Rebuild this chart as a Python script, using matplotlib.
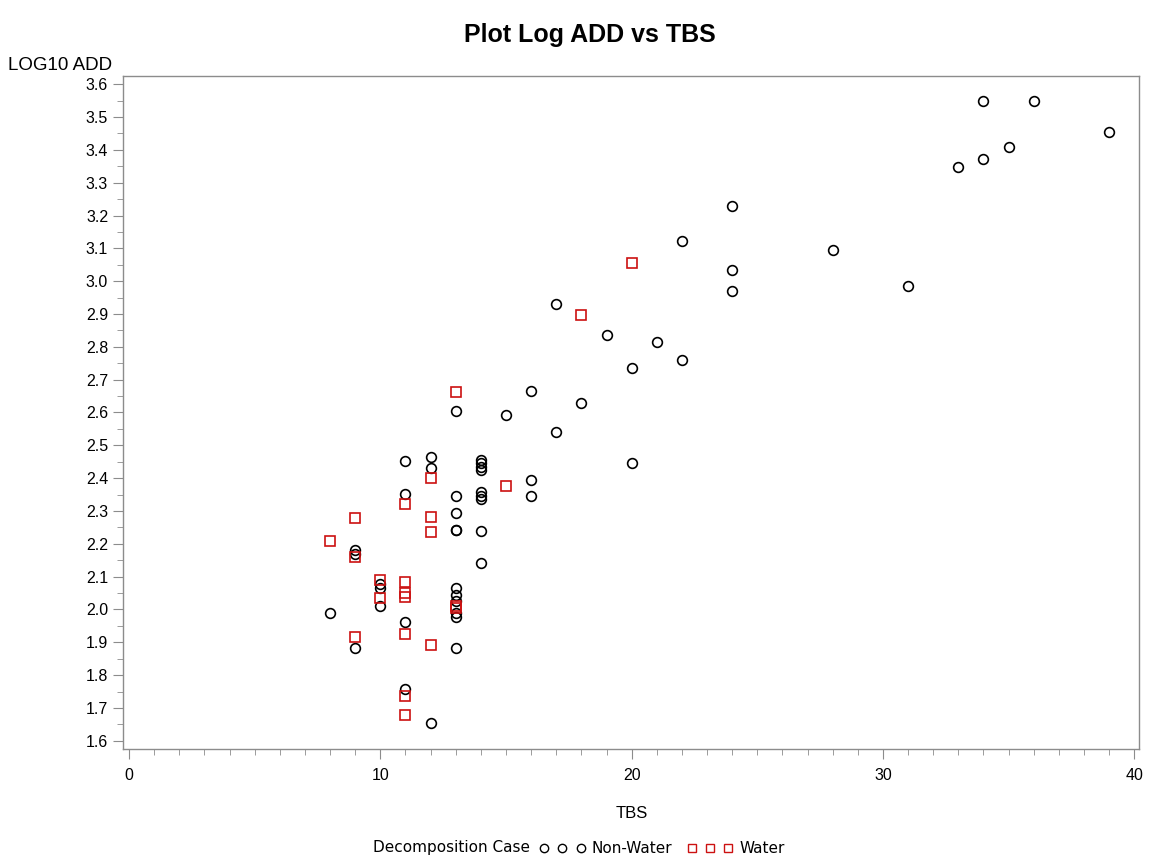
import matplotlib.pyplot as plt
from matplotlib.lines import Line2D
from matplotlib.ticker import MultipleLocator

# Non-Water cases (circles)
nw_tbs = [8, 9, 9, 9, 10, 10, 10, 11, 11, 11, 11, 12, 12, 12,
          13, 13, 13, 13, 13, 13, 13, 13, 13, 13, 13,
          14, 14, 14, 14, 14, 14, 14, 14, 14,
          15, 16, 16, 16, 17, 17, 18, 19, 20, 20, 21, 22, 22,
          24, 24, 24, 28, 31, 33, 34, 34, 35, 36, 39]
nw_log_add = [1.99, 2.18, 2.168, 1.884, 2.076, 2.064, 2.012,
              2.452, 2.351, 1.963, 1.759, 2.464, 2.430, 1.655,
              2.605, 2.345, 2.293, 2.241, 2.243, 2.064, 2.043, 2.027, 1.988, 1.976, 1.884,
              2.455, 2.445, 2.435, 2.425, 2.357, 2.347, 2.337, 2.238, 2.14,
              2.592, 2.665, 2.394, 2.345, 2.931, 2.54, 2.629, 2.837, 2.736, 2.446,
              2.815, 3.121, 2.760, 3.228, 3.035, 2.971, 3.096, 2.986, 3.347,
              3.548, 3.371, 3.408, 3.548, 3.454]

# Water cases (squares)
w_tbs = [8, 9, 9, 9, 10, 10, 11, 11, 11, 11, 11, 11, 11,
         12, 12, 12, 12, 13, 13, 13, 15, 18, 20]
w_log_add = [2.208, 2.278, 2.159, 1.915, 2.089, 2.034,
             2.321, 2.083, 2.049, 2.037, 1.924, 1.737, 1.679,
             2.40, 2.281, 2.235, 1.893, 2.663, 2.003, 2.012,
             2.376, 2.898, 3.056]

red = '#cc1111'
grey = '#8c8c8c'

plt.rcParams['font.family'] = ['Liberation Sans', 'DejaVu Sans']

fig = plt.figure(figsize=(11.55, 8.59), dpi=100)
ax = fig.add_axes([0.1069, 0.1281, 0.8795, 0.7838])

ax.plot(nw_tbs, nw_log_add, linestyle='none', marker='o', ms=7,
        mfc='none', mec='black', mew=1.2)
ax.plot(w_tbs, w_log_add, linestyle='none', marker='s', ms=7,
        mfc='none', mec=red, mew=1.2)

ax.set_xlim(-0.22, 40.2)
ax.set_ylim(1.575, 3.626)
ax.xaxis.set_major_locator(MultipleLocator(10))
ax.xaxis.set_minor_locator(MultipleLocator(1))
ax.yaxis.set_major_locator(MultipleLocator(0.1))
ax.yaxis.set_minor_locator(MultipleLocator(0.05))
ax.yaxis.set_major_formatter(plt.FormatStrFormatter('%.1f'))

for s in ax.spines.values():
    s.set_color(grey)
    s.set_linewidth(1.0)
ax.tick_params(which='major', length=7, color=grey, labelsize=11.5, pad=4)
ax.tick_params(axis='x', which='major', pad=7)
ax.tick_params(which='minor', length=4, color=grey)

ax.set_xlabel('TBS', fontsize=12, labelpad=16)
fig.text(0.007, 0.918, 'LOG10 ADD', fontsize=13.5, ha='left', va='baseline')
fig.text(0.511, 0.959, 'Plot Log ADD vs TBS', fontsize=18, fontweight='bold',
         ha='center', va='center')

# legend along the bottom
fig.text(0.459, 0.005, 'Decomposition Case', fontsize=11, family='DejaVu Sans',
         ha='right', va='bottom')
handles = [Line2D([], [], linestyle='none', marker='o', ms=6, mfc='none', mec='black', mew=1),
           Line2D([], [], linestyle='none', marker='s', ms=6, mfc='none', mec=red, mew=1)]
fig.legend(handles, ['Non-Water', 'Water'], loc='lower left', bbox_to_anchor=(0.455, -0.013),
           ncol=2, numpoints=3, frameon=False, handlelength=3, handletextpad=0.4,
           columnspacing=1.0, prop={'family': 'DejaVu Sans', 'size': 11})

fig.savefig('out.png', dpi=100)
